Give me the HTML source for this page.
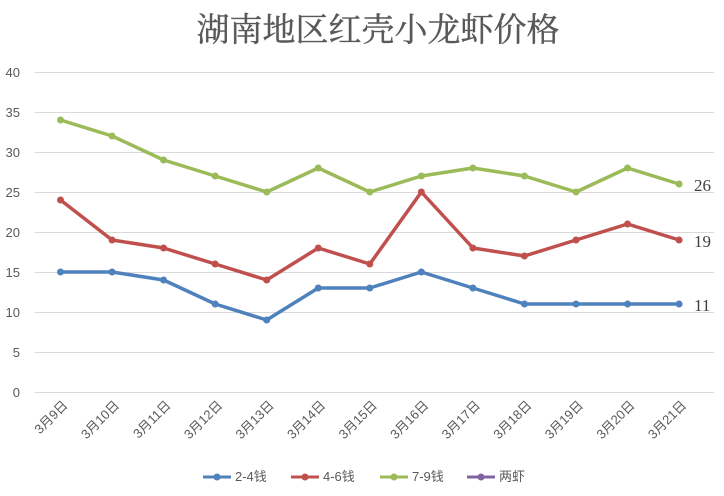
<!DOCTYPE html>
<html><head><meta charset="utf-8"><style>body{margin:0;background:#fff}svg{display:block}</style></head><body>
<svg width="724" height="496" xmlns="http://www.w3.org/2000/svg" font-family="Liberation Sans, Noto Sans CJK SC, sans-serif">
<text x="378" y="41" text-anchor="middle" font-size="33" fill="#595959" stroke="#595959" stroke-width="0.4" font-family="Liberation Serif, Noto Serif CJK SC, serif">湖南地区红壳小龙虾价格</text>
<g stroke="#d9d9d9" stroke-width="1">
<line x1="35" x2="714" y1="72.5" y2="72.5"/><line x1="35" x2="714" y1="112.5" y2="112.5"/><line x1="35" x2="714" y1="152.5" y2="152.5"/><line x1="35" x2="714" y1="192.5" y2="192.5"/><line x1="35" x2="714" y1="232.5" y2="232.5"/><line x1="35" x2="714" y1="272.5" y2="272.5"/><line x1="35" x2="714" y1="312.5" y2="312.5"/><line x1="35" x2="714" y1="352.5" y2="352.5"/><line x1="35" x2="714" y1="392.5" y2="392.5"/>
</g>
<g font-size="13" fill="#595959" text-anchor="end">
<text x="20" y="77">40</text><text x="20" y="117">35</text><text x="20" y="157">30</text><text x="20" y="197">25</text><text x="20" y="237">20</text><text x="20" y="277">15</text><text x="20" y="317">10</text><text x="20" y="357">5</text><text x="20" y="397">0</text>
</g>
<g id="lbl" font-size="13" fill="#595959" text-anchor="end"></g>
<g id="series"></g>
<g font-size="17" fill="#404040" font-family="Liberation Serif, serif">
<text x="694" y="191">26</text><text x="694" y="247">19</text><text x="694" y="311">11</text>
</g>
<g font-size="13" fill="#595959">
<line x1="203" x2="231" y1="477" y2="477" stroke="#4f81bd" stroke-width="3"/><circle cx="217" cy="477" r="3.5" fill="#4f81bd"/><text x="235" y="481">2-4钱</text>
<line x1="291" x2="319" y1="477" y2="477" stroke="#c0504d" stroke-width="3"/><circle cx="305" cy="477" r="3.5" fill="#c0504d"/><text x="323" y="481">4-6钱</text>
<line x1="380" x2="408" y1="477" y2="477" stroke="#9bbb59" stroke-width="3"/><circle cx="394" cy="477" r="3.5" fill="#9bbb59"/><text x="412" y="481">7-9钱</text>
<line x1="467" x2="495" y1="477" y2="477" stroke="#8064a2" stroke-width="3"/><circle cx="481" cy="477" r="3.5" fill="#8064a2"/><text x="499" y="481">两虾</text>
</g>
<script>
var ns="http://www.w3.org/2000/svg";
var X=function(i){return 60.5+51.55*i},Y=function(v){return 392-8*v};
var lbl=document.getElementById('lbl');
for(var i=0;i<13;i++){var t=document.createElementNS(ns,'text');var x=X(i)+8,y=406;t.setAttribute('x',x);t.setAttribute('y',y);t.setAttribute('transform','rotate(-45 '+x+' '+y+')');t.textContent='3月'+(9+i)+'日';lbl.appendChild(t);}
var d=[[[15,15,14,11,9,13,13,15,13,11,11,11,11],'#4f81bd'],[[24,19,18,16,14,18,16,25,18,17,19,21,19],'#c0504d'],[[34,32,29,27,25,28,25,27,28,27,25,28,26],'#9bbb59']];
var g=document.getElementById('series');
d.forEach(function(s){var p=s[0].map(function(v,i){return X(i)+','+Y(v)}).join(' ');var pl=document.createElementNS(ns,'polyline');pl.setAttribute('points',p);pl.setAttribute('fill','none');pl.setAttribute('stroke',s[1]);pl.setAttribute('stroke-width','3.5');pl.setAttribute('stroke-linejoin','round');g.appendChild(pl);s[0].forEach(function(v,i){var c=document.createElementNS(ns,'circle');c.setAttribute('cx',X(i));c.setAttribute('cy',Y(v));c.setAttribute('r','3.5');c.setAttribute('fill',s[1]);g.appendChild(c);});});
</script>
</svg>
</body></html>
